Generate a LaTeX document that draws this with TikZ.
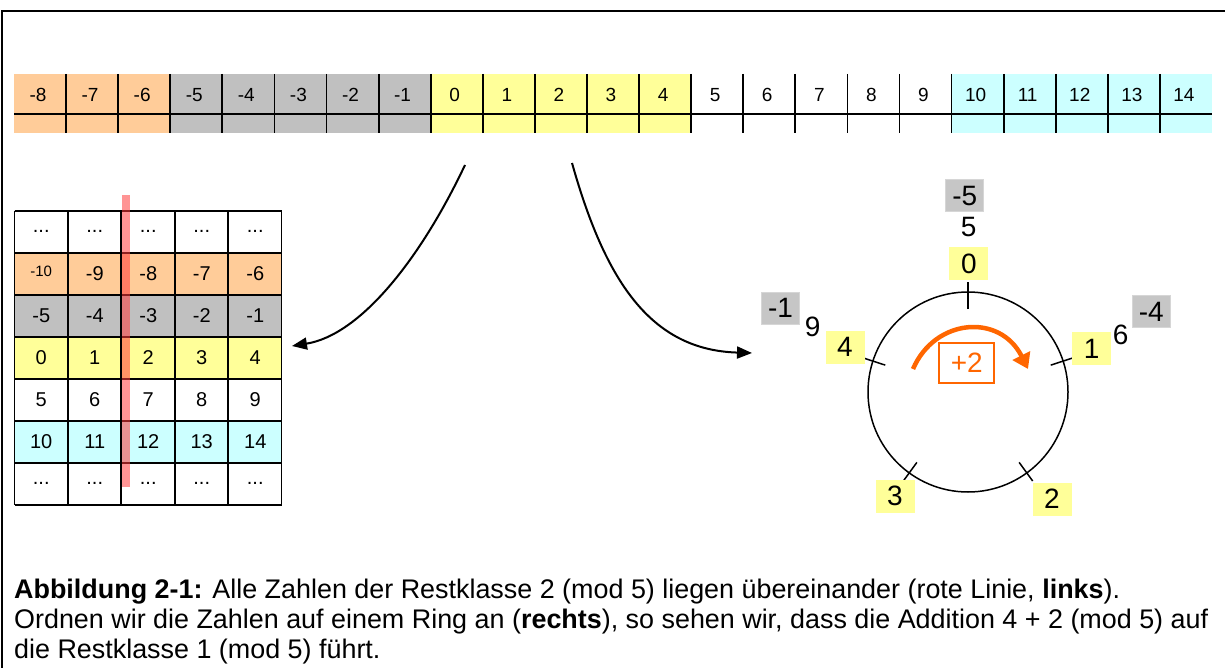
\documentclass[tikz,border=0pt]{standalone}
\usepackage{fontspec}
\setmainfont{Liberation Sans}
\usetikzlibrary{arrows.meta}
\definecolor{corange}{HTML}{FFCC99}
\definecolor{cgray}{HTML}{C0C0C0}
\definecolor{cyellow}{HTML}{FFFF99}
\definecolor{ccyan}{HTML}{CCFFFF}
\definecolor{ringgray}{HTML}{C6C6C6}
\definecolor{ringgrayedge}{HTML}{D6D6D6}
\definecolor{plusorange}{HTML}{FF6600}
\definecolor{redline}{HTML}{FF3C3C}
\begin{document}
\begin{tikzpicture}[x=1pt,y=-1pt,
  gridline/.style={line width=1.8pt,black},
  stripnum/.style={inner sep=0pt,font=\fontsize{19}{20}\selectfont},
  tabnum/.style={inner sep=0pt,font=\fontsize{20}{22}\selectfont},
  ylab/.style={fill=cyellow,minimum width=39pt,minimum height=33pt,inner sep=0pt,font=\fontsize{28}{30}\selectfont},
  glab/.style={fill=ringgray,draw=ringgrayedge,line width=1pt,minimum width=38pt,minimum height=32pt,inner sep=0pt,font=\fontsize{28}{30}\selectfont},
  plab/.style={inner sep=0pt,font=\fontsize{28}{30}\selectfont},
  connector/.style={line width=2pt,-{Triangle[length=15pt,width=12pt]}},
  tick/.style={line width=1.5pt},
  caption/.style={anchor=base west,inner sep=0pt,font=\fontsize{26.9}{30}\selectfont}]
\useasboundingbox (0,0) rectangle (1225,668);
% frame
\draw[line width=2pt] (1.5,668) -- (1.5,11) -- (1225,11);
% ---- number strip ----
\foreach \v/\c in {-8/corange,-7/corange,-6/corange,-5/cgray,-4/cgray,-3/cgray,-2/cgray,-1/cgray,0/cyellow,1/cyellow,2/cyellow,3/cyellow,4/cyellow,5/white,6/white,7/white,8/white,9/white,10/ccyan,11/ccyan,12/ccyan,13/ccyan,14/ccyan}{
  \pgfmathsetmacro\xl{14+(\v+8)*52.087}
  \fill[\c] (\xl,74) rectangle ++(52.087,59.3);
  \node[stripnum] (s\v) at (\xl+24,95) {\v};
}
\foreach \k in {1,...,22}{
  \draw[gridline] ({14+\k*52.087},74) -- ++(0,59.3);
}
\draw[gridline] (14,114) -- (1212,114);
% ---- table ----
\foreach \r/\c in {1/corange,2/cgray,3/cyellow,5/ccyan}{
  \fill[\c] (14.5,{210.7+\r*42}) rectangle ++(267,42);
}
\foreach \col in {0,...,4}{
  \node[tabnum] (t0\col) at ({41.25+\col*53.5},231.7) {...};
  \node[tabnum] (t6\col) at ({41.25+\col*53.5},483.7) {...};
}
\foreach \r in {1,...,5}{
  \foreach \col in {0,...,4}{
    \pgfmathtruncatemacro\n{(\r-3)*5+\col}
    \ifnum\n=-10
      \node[inner sep=0pt,font=\fontsize{15}{16}\selectfont] (t\r\col) at ({41.25+\col*53.5},{229.7+\r*42}) {\n};
    \else
      \node[tabnum] (t\r\col) at ({41.25+\col*53.5},{231.7+\r*42}) {\n};
    \fi
  }
}
\foreach \k in {0,...,7}{
  \draw[gridline] (14.5,{210.7+\k*42}) -- (281.5,{210.7+\k*42});
}
\foreach \k in {0,...,5}{
  \draw[gridline] ({14.5+\k*53.4},210.7) -- ({14.5+\k*53.4},504.7);
}
% red line
\fill[redline,opacity=0.55] (122.3,195) rectangle (130,487);
% ---- connectors ----
\coordinate (lstart) at (465,165);
\coordinate (lend) at (292,346);
\coordinate (rstart) at (572,163);
\coordinate (rend) at (752,353);
\draw[connector] (lstart) .. controls (420,260) and (360,335) .. (lend);
\draw[connector] (rstart) .. controls (605,280) and (650,350) .. (rend);
% ---- ring ----
\node[circle,draw,line width=1.5pt,minimum size=200pt,inner sep=0pt] (ring) at (968,392) {};
\draw[line width=2.5pt] (968,309) -- (968,282);
\foreach \a in {18,162,234,306}{
  \draw[tick] ({968+87*cos(\a)},{392-87*sin(\a)}) -- ({968+110*cos(\a)},{392-110*sin(\a)});
}
\node[ylab] (r0) at (968.8,263.7) {0};
\node[ylab] (r1) at (1091.7,348.7) {1};
\node[ylab] (r4) at (845,347) {4};
\node[ylab] (r3) at (895,496) {3};
\node[ylab] (r2) at (1052,499) {2};
\node[glab] (gm5) at (964.7,196) {-5};
\node[plab] (p5) at (968.7,227.3) {5};
\node[glab] (gm1) at (780.5,308) {-1};
\node[plab] (p9) at (812.7,327.3) {9};
\node[glab] (gm4) at (1151.3,311.7) {-4};
\node[plab] (p6) at (1120.7,335) {6};
% orange +2 arrow
\node[draw=plusorange,line width=1.5pt,text=plusorange,minimum width=55pt,minimum height=40pt,inner sep=0pt,font=\fontsize{28}{30}\selectfont] (plus) at (966.7,363) {+2};
\coordinate (ostart) at (913,369);
\coordinate (oend) at (1028,369);
\draw[plusorange,line width=4.5pt,-{Triangle[length=15pt,width=19pt]}] (ostart) .. controls (935,318) and (1000,313) .. (oend);
% ---- caption ----
\node[caption] (cap1) at (14,598) {\textbf{Abbildung 2-1:} Alle Zahlen der Restklasse 2 (mod 5) liegen übereinander (rote Linie, \textbf{links}).};
\node[caption] (cap2) at (14,628) {Ordnen wir die Zahlen auf einem Ring an (\textbf{rechts}), so sehen wir, dass die Addition 4 + 2 (mod 5) auf};
\node[caption] (cap3) at (14,658) {die Restklasse 1 (mod 5) führt.};
\end{tikzpicture}
\end{document}
